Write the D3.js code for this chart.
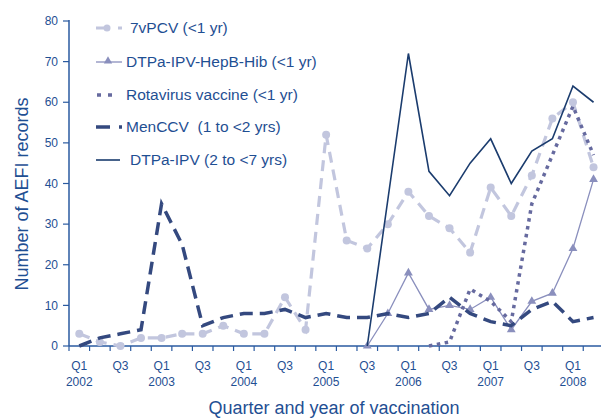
<!DOCTYPE html>
<html>
<head>
<meta charset="utf-8">
<script src="https://cdn.jsdelivr.net/npm/d3@7"></script>
<style>
  html, body { margin: 0; padding: 0; background: #fff; }
  svg { display: block; font-family: "Liberation Sans", Arial, sans-serif; }
</style>
</head>
<body>
<svg id="chart" width="601" height="419"></svg>
<script>
// quarters Q1 2002 .. Q2 2008
const quarters = ["2002Q1","2002Q2","2002Q3","2002Q4","2003Q1","2003Q2","2003Q3","2003Q4",
  "2004Q1","2004Q2","2004Q3","2004Q4","2005Q1","2005Q2","2005Q3","2005Q4",
  "2006Q1","2006Q2","2006Q3","2006Q4","2007Q1","2007Q2","2007Q3","2007Q4",
  "2008Q1","2008Q2"];
const quarterLabels = ["Q1","","Q3","","Q1","","Q3","","Q1","","Q3","","Q1","","Q3","","Q1","","Q3","","Q1","","Q3","","Q1",""];
const yearLabels = ["2002","","","","2003","","","","2004","","","","2005","","","","2006","","","","2007","","","","2008",""];
const yTicks = [0, 10, 20, 30, 40, 50, 60, 70, 80];

const pcv7  = [3,1,0,2,2,3,3,5,3,3,12,4,52,26,24,30,38,32,29,23,39,32,42,56,60,44];
const hexa  = [null,null,null,null,null,null,null,null,null,null,null,null,null,null,0,8,18,9,10,9,12,4,11,13,24,41];
const rota  = [null,null,null,null,null,null,null,null,null,null,null,null,null,null,null,null,null,0,1,14,11,6,35,47,59,47];
const menc  = [0,2,3,4,35,25,5,7,8,8,9,7,8,7,7,8,7,8,12,8,6,5,9,11,6,7];
const dtpa  = [null,null,null,null,null,null,null,null,null,null,null,null,null,null,0,36,72,43,37,45,51,40,48,51,64,60];

const seriesNames = ["7vPCV (<1 yr)", "DTPa-IPV-HepB-Hib (<1 yr)", "Rotavirus vaccine (<1 yr)", "MenCCV  (1 to <2 yrs)", "DTPa-IPV (2 to <7 yrs)"];

const textColor = "#1f4f93";
const axisColor = "#2a5aa0";

const svg = d3.select("#chart");

const x = d3.scaleBand().domain(quarters).range([69, 69 + 26 * 20.57]);
const y = d3.scaleLinear().domain([0, 80]).range([346, 21]);
const cx = q => x(q) + x.bandwidth() / 2;

// axes
svg.append("line")
  .attr("x1", 69).attr("x2", 69).attr("y1", y(80) - 1).attr("y2", y(0))
  .attr("stroke", axisColor).attr("stroke-width", 1.5);
svg.append("line")
  .attr("x1", 69).attr("x2", 601).attr("y1", y(0)).attr("y2", y(0))
  .attr("stroke", axisColor).attr("stroke-width", 1.5);

svg.selectAll(".ytick").data(yTicks).enter().append("line")
  .attr("x1", 63).attr("x2", 69).attr("y1", d => y(d)).attr("y2", d => y(d))
  .attr("stroke", axisColor).attr("stroke-width", 1.2);
svg.selectAll(".ylab").data(yTicks).enter().append("text")
  .attr("x", 58).attr("y", d => y(d)).attr("dy", "0.35em")
  .attr("text-anchor", "end").attr("fill", textColor)
  .style("font-size", "12px").text(d => d);

svg.selectAll(".xtick").data(quarters).enter().append("line")
  .attr("x1", d => x(d)).attr("x2", d => x(d))
  .attr("y1", y(0)).attr("y2", y(0) + 5)
  .attr("stroke", axisColor).attr("stroke-width", 1.2);
svg.selectAll(".qlab").data(quarters).enter().append("text")
  .attr("x", d => cx(d)).attr("y", 370)
  .attr("text-anchor", "middle").attr("fill", textColor)
  .style("font-size", "12px").text((d, i) => quarterLabels[i]);
svg.selectAll(".yrlab").data(quarters).enter().append("text")
  .attr("x", d => cx(d)).attr("y", 386)
  .attr("text-anchor", "middle").attr("fill", textColor)
  .style("font-size", "12px").text((d, i) => yearLabels[i]);

svg.append("text")
  .attr("x", 334).attr("y", 414)
  .attr("text-anchor", "middle").attr("fill", textColor)
  .style("font-size", "18px").text("Quarter and year of vaccination");
svg.append("text")
  .attr("transform", "translate(28,194) rotate(-90)")
  .attr("text-anchor", "middle").attr("fill", textColor)
  .style("font-size", "18px").text("Number of AEFI records");

// series
const styles = [
  { data: pcv7, color: "#c2c6de", width: 3.2, dash: "11,7", marker: "circle" },
  { data: hexa, color: "#8a8fbd", width: 1.3, dash: null, marker: "triangle" },
  { data: rota, color: "#666a9f", width: 3.5, dash: "3.5,4.5", marker: null },
  { data: menc, color: "#34497f", width: 3.5, dash: "13,7", marker: null },
  { data: dtpa, color: "#1b3c6e", width: 1.6, dash: null, marker: null }
];

const line = d3.line()
  .defined(d => d.v != null)
  .x(d => cx(d.q))
  .y(d => y(d.v));

styles.forEach(s => {
  const pts = quarters.map((q, i) => ({ q: q, v: s.data[i] }));
  svg.append("path")
    .datum(pts)
    .attr("d", line)
    .attr("fill", "none")
    .attr("stroke", s.color)
    .attr("stroke-width", s.width)
    .attr("stroke-dasharray", s.dash)
    .attr("stroke-linejoin", "miter");
  const defined = pts.filter(d => d.v != null);
  if (s.marker === "circle") {
    svg.selectAll(null).data(defined).enter().append("circle")
      .attr("cx", d => cx(d.q)).attr("cy", d => y(d.v)).attr("r", 4)
      .attr("fill", s.color);
  } else if (s.marker === "triangle") {
    svg.selectAll(null).data(defined).enter().append("path")
      .attr("d", d3.symbol(d3.symbolTriangle, 34))
      .attr("transform", d => `translate(${cx(d.q)},${y(d.v)})`)
      .attr("fill", s.color);
  }
});

// legend
const legendY = [28, 62, 95, 127, 160];
const legendTextX = [130, 126, 126, 126, 130];
const leg = svg.append("g");

leg.append("line").attr("x1", 96).attr("x2", 122).attr("y1", legendY[0]).attr("y2", legendY[0])
  .attr("stroke", styles[0].color).attr("stroke-width", 3.2).attr("stroke-dasharray", "11,11");
leg.append("circle").attr("cx", 107).attr("cy", legendY[0]).attr("r", 3.5).attr("fill", styles[0].color);

leg.append("line").attr("x1", 96).attr("x2", 122).attr("y1", legendY[1]).attr("y2", legendY[1])
  .attr("stroke", styles[1].color).attr("stroke-width", 1.3);
leg.append("path").attr("d", d3.symbol(d3.symbolTriangle, 30))
  .attr("transform", `translate(108,${legendY[1] - 1})`).attr("fill", styles[1].color);

leg.append("line").attr("x1", 97).attr("x2", 114).attr("y1", legendY[2]).attr("y2", legendY[2])
  .attr("stroke", styles[2].color).attr("stroke-width", 3.5).attr("stroke-dasharray", "4,7");

leg.append("line").attr("x1", 96).attr("x2", 122).attr("y1", legendY[3]).attr("y2", legendY[3])
  .attr("stroke", styles[3].color).attr("stroke-width", 3.5).attr("stroke-dasharray", "14,9");

leg.append("line").attr("x1", 96).attr("x2", 120).attr("y1", legendY[4]).attr("y2", legendY[4])
  .attr("stroke", styles[4].color).attr("stroke-width", 1.6);

leg.selectAll("text").data(seriesNames).enter().append("text")
  .attr("x", (d, i) => legendTextX[i]).attr("y", (d, i) => legendY[i]).attr("dy", "0.35em")
  .attr("fill", textColor).style("font-size", "15.5px")
  .style("white-space", "pre").attr("xml:space", "preserve")
  .text(d => d);
</script>
</body>
</html>
